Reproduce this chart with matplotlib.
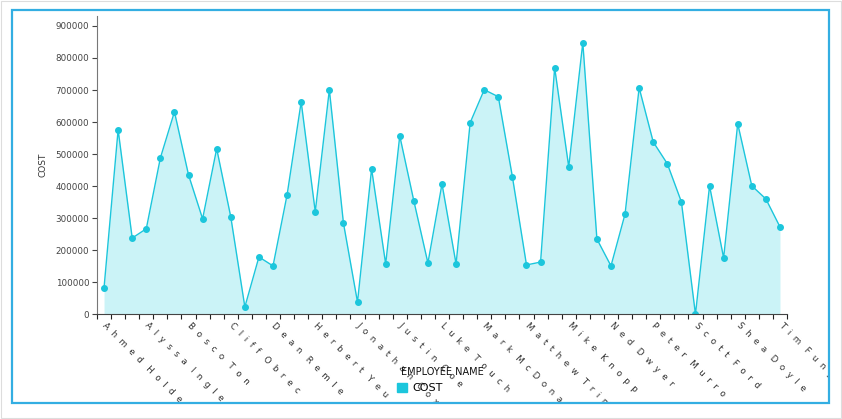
import matplotlib.pyplot as plt
import numpy as np
from matplotlib.patches import Rectangle, Patch
from matplotlib.transforms import Bbox, TransformedBbox

# cost per employee
cost = [83000, 576000, 238000, 267000, 488000, 632000, 435000, 298000, 517000, 304000,
        23000, 179000, 151000, 373000, 663000, 320000, 701000, 285000, 38000, 454000,
        157000, 557000, 354000, 160000, 407000, 157000, 598000, 701000, 679000, 429000,
        154000, 163000, 770000, 460000, 848000, 235000, 151000, 313000, 707000, 538000,
        470000, 351000, 0, 401000, 176000, 595000, 401000, 360000, 273000]

# only every third name is shown on the axis
tick_names = ["Ahmed Holder", "Alyssa Ingle", "Bosco Ton", "Cliff Obrec", "Dean Remle",
              "Herbert Yeu", "Jonathan Cox", "Justin Coe", "Luke Touch", "Mark McDonald",
              "Matthew Trim", "Mike Knopp", "Ned Dwyer", "Peter Murro", "Scott Ford",
              "Shea Doyle", "Tim Fung"]
label_step = 3
y_ticks = list(range(0, 900001, 100000))

line_col = "#1cc6dc"
fill_col = "#cbf3f7"
frame_col = "#33aee2"

fig = plt.figure(figsize=(8.42, 4.19), dpi=100)
ax = fig.add_axes([97/842, 1-314.3/419, 690/842, 298.3/419])

x = np.arange(len(cost))
ax.fill_between(x, cost, color=fill_col, lw=0)
ax.plot(x, cost, color=line_col, lw=1, marker="o", ms=4, mec=line_col, mfc=line_col)

ax.set_xlim(-0.5, len(cost) - 0.5)
ax.set_ylim(0, 931000)
ax.set_yticks(y_ticks, labels=[str(v) for v in y_ticks])
ax.tick_params(axis="y", labelsize=6.3, length=3.6, width=0.8, colors="#444", pad=2)

ax.set_xticks(np.arange(-0.5, len(cost)), minor=True)
ax.tick_params(axis="x", which="minor", length=3.6, width=0.8, color="#222")
# wide letter spacing like the original rendering
spaced = ["   ".join("  ".join(w) for w in n.split()) for n in tick_names]
ax.set_xticks(x[::label_step], labels=spaced)
ax.tick_params(axis="x", which="major", length=0, pad=7, labelsize=6.3, labelcolor="#333")

clip = TransformedBbox(Bbox([[13/842, 1-402/419], [828/842, 1-11/419]]), fig.transFigure)
for lbl in ax.get_xticklabels():
    lbl.set_rotation(-45)
    lbl.set_rotation_mode("anchor")
    lbl.set_ha("left")
    lbl.set_va("center")
    lbl.set_clip_on(True)
    lbl.set_clip_box(clip)

for s in ["top", "right"]:
    ax.spines[s].set_visible(False)
ax.spines["left"].set_color("#777")
ax.spines["bottom"].set_color("#444")
ax.set_ylabel("COST", fontsize=6.5, color="#333", labelpad=6)

fig.text(442/842, 1-372/419, "EMPLOYEE NAME", fontsize=7, ha="center", va="center", color="#111")
fig.legend(handles=[Patch(color=line_col, label="COST")], loc="center",
           bbox_to_anchor=(420/842, 1-388/419), frameon=False, fontsize=8,
           handlelength=0.9, handleheight=0.9, handletextpad=0.5)

fig.patches.append(Rectangle((12/842, 1-403/419), 817/842, 393/419, transform=fig.transFigure,
                             fill=False, ec=frame_col, lw=1.6))
fig.patches.append(Rectangle((1/842, 1/419), 840/842, 417/419, transform=fig.transFigure,
                             fill=False, ec="#dddddd", lw=0.8))

fig.savefig("out.png", dpi=100)
